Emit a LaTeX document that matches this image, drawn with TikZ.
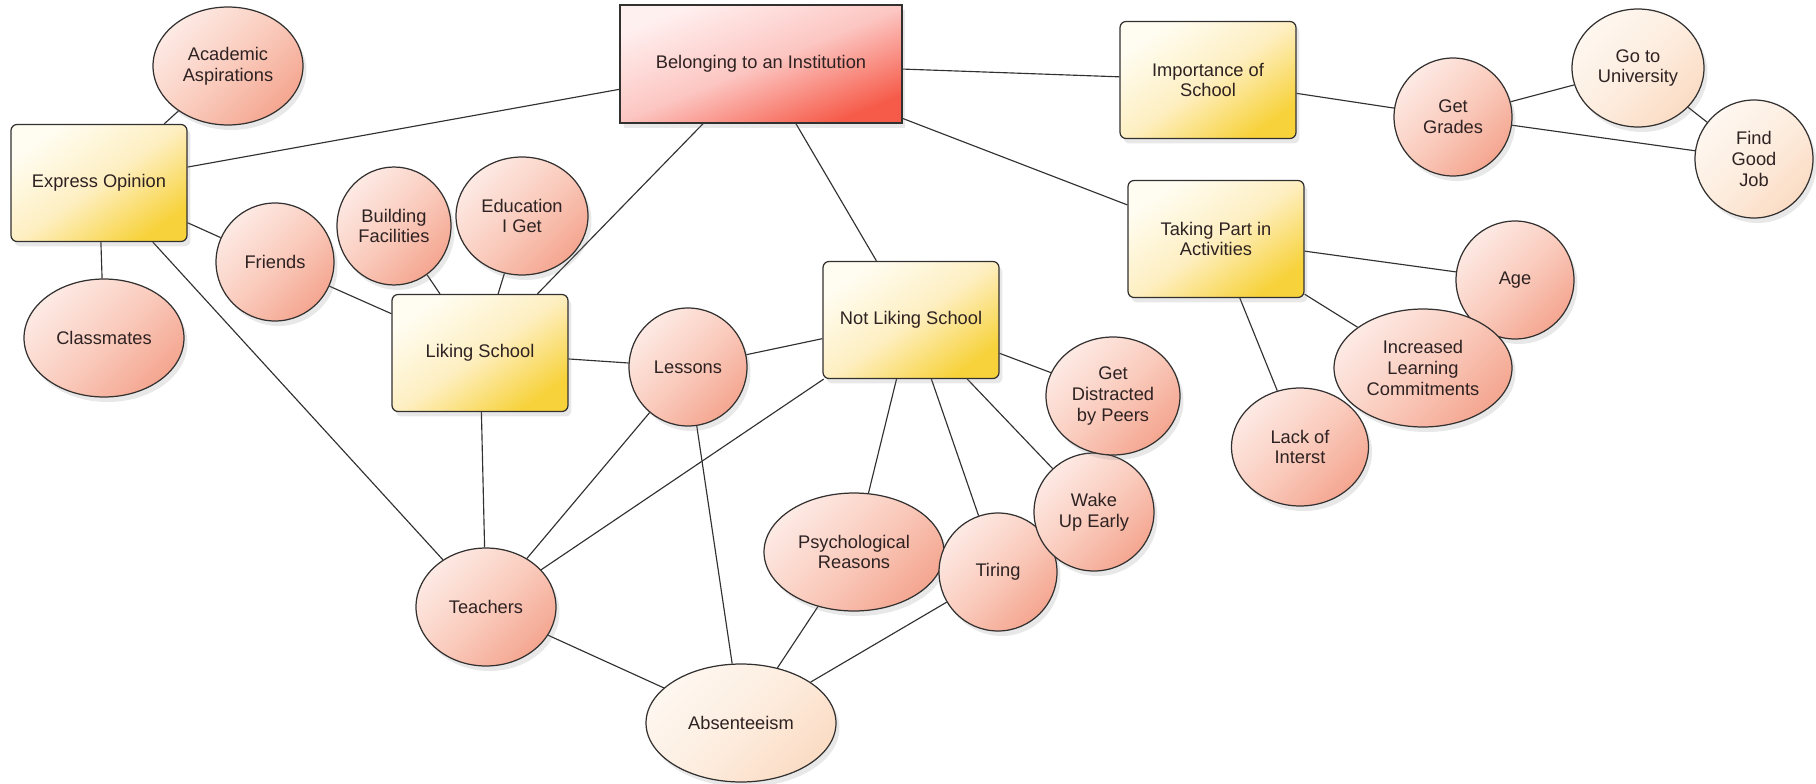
\documentclass[tikz,border=0pt]{standalone}
\usepackage{fontspec}
\setmainfont{Liberation Sans}
\usepackage{xcolor}
\usetikzlibrary{shapes.geometric}
\usetikzlibrary{shadows}
\usetikzlibrary{positioning}

\definecolor{lineGrey}{HTML}{333030}
\definecolor{textDark}{HTML}{2E2222}
\definecolor{pinkTop}{HTML}{FDEAE4}
\definecolor{pinkMid}{HTML}{FACCBE}
\definecolor{pinkBot}{HTML}{F4A690}
\definecolor{creamTop}{HTML}{FEF7F0}
\definecolor{creamMid}{HTML}{FDEDDF}
\definecolor{creamBot}{HTML}{FBDCC4}
\definecolor{yelTop}{HTML}{FFFDF2}
\definecolor{yelMid}{HTML}{FEEFC2}
\definecolor{yelBot}{HTML}{F7D23A}
\definecolor{redTop}{HTML}{FFF0F0}
\definecolor{redMid}{HTML}{FCC6C2}
\definecolor{redBot}{HTML}{F65A48}

\pgfdeclarelayer{background}
\pgfsetlayers{background,main}

\begin{document}
\begin{tikzpicture}[x=0.02cm, y=-0.02cm,
	font=\fontsize{10.4}{11.8}\selectfont,
	every node/.style={text=textDark, align=center, inner sep=0pt, line width=.7pt, draw=lineGrey,
		drop shadow={opacity=.18, shadow xshift=.07cm, shadow yshift=-.1cm}},
	bubble/.style={ellipse, minimum height=2.36cm, minimum width=2.36cm,
		top color=pinkTop, bottom color=pinkBot, middle color=pinkMid, shading angle=45},
	pale/.style={bubble, top color=creamTop, bottom color=creamBot, middle color=creamMid, shading angle=45},
	topic/.style={rectangle, rounded corners=.12cm, minimum width=3.52cm, minimum height=2.34cm,
		top color=yelTop, bottom color=yelBot, middle color=yelMid, shading angle=35},
	root/.style={rectangle, minimum width=5.64cm, minimum height=2.36cm,
		top color=redTop, bottom color=redBot, middle color=redMid, shading angle=22},
	link/.style={draw=lineGrey, line width=.65pt}
]
	\useasboundingbox (0,0) rectangle (1816,784);

	\node[root] (belonging) at (761,64) {Belonging to an Institution};
	\node[topic] (importance) at (1208,80) {Importance of\\School};
	\node[topic] (taking) at (1216,239) {Taking Part in\\Activities};
	\node[topic] (express) at (99,183) {Express Opinion};
	\node[topic] (liking) at (480,353) {Liking School};
	\node[topic] (notliking) at (911,320) {Not Liking School};

	\node[bubble, minimum width=3cm] (academic) at (228,66) {Academic\\Aspirations};
	\node[bubble, minimum width=3.2cm] (classmates) at (104,338) {Classmates};
	\node[bubble] (friends) at (275,262) {Friends};
	\node[bubble, minimum width=2.28cm] (building) at (394,226) {Building\\Facilities};
	\node[bubble, minimum width=2.64cm] (education) at (522,216) {Education\\I Get};
	\node[bubble] (lessons) at (688,367) {Lessons};
	\node[bubble, minimum width=2.8cm] (teachers) at (486,607) {Teachers};
	\node[pale, minimum width=3.8cm] (absent) at (741,723) {Absenteeism};
	\node[bubble, minimum width=3.6cm] (psych) at (854,552) {Psychological\\Reasons};
	\node[bubble] (tiring) at (998,572) {Tiring};
	\node[bubble, minimum width=2.4cm] (wake) at (1094,512) {Wake\\Up Early};
	\node[bubble, minimum width=2.68cm] (distracted) at (1113,396) {Get\\Distracted\\by Peers};

	\node[bubble] (grades) at (1453,117) {Get\\Grades};
	\node[pale, minimum width=2.64cm] (university) at (1638,68) {Go to\\University};
	\node[pale] (goodjob) at (1754,159) {Find\\Good\\Job};
	\node[bubble] (age) at (1515,280) {Age};
	\node[bubble, minimum width=3.56cm] (commitments) at (1423,368) {Increased\\Learning\\Commitments};
	\node[bubble, minimum width=2.74cm] (interest) at (1300,447) {Lack of\\Interst};

	\begin{pgfonlayer}{background}
		\draw[link] (academic) -- (express);
		\draw[link] (express) -- (belonging);
		\draw[link] (express) -- (classmates);
		\draw[link] (express) -- (friends);
		\draw[link] (express) -- (teachers);
		\draw[link] (friends) -- (liking);
		\draw[link] (building) -- (liking);
		\draw[link] (education) -- (liking);
		\draw[link] (belonging) -- (liking);
		\draw[link] (belonging) -- (notliking);
		\draw[link] (belonging) -- (importance);
		\draw[link] (belonging) -- (taking);
		\draw[link] (importance) -- (grades);
		\draw[link] (grades) -- (university);
		\draw[link] (grades) -- (goodjob);
		\draw[link] (university) -- (goodjob);
		\draw[link] (taking) -- (age);
		\draw[link] (taking) -- (commitments);
		\draw[link] (taking) -- (interest);
		\draw[link] (liking) -- (lessons);
		\draw[link] (liking) -- (teachers);
		\draw[link] (lessons) -- (notliking);
		\draw[link] (lessons) -- (teachers);
		\draw[link] (lessons) -- (absent);
		\draw[link] (notliking) -- (teachers);
		\draw[link] (notliking) -- (psych);
		\draw[link] (notliking) -- (tiring);
		\draw[link] (notliking) -- (wake);
		\draw[link] (notliking) -- (distracted);
		\draw[link] (teachers) -- (absent);
		\draw[link] (psych) -- (absent);
		\draw[link] (tiring) -- (absent);
	\end{pgfonlayer}
\end{tikzpicture}
\end{document}
